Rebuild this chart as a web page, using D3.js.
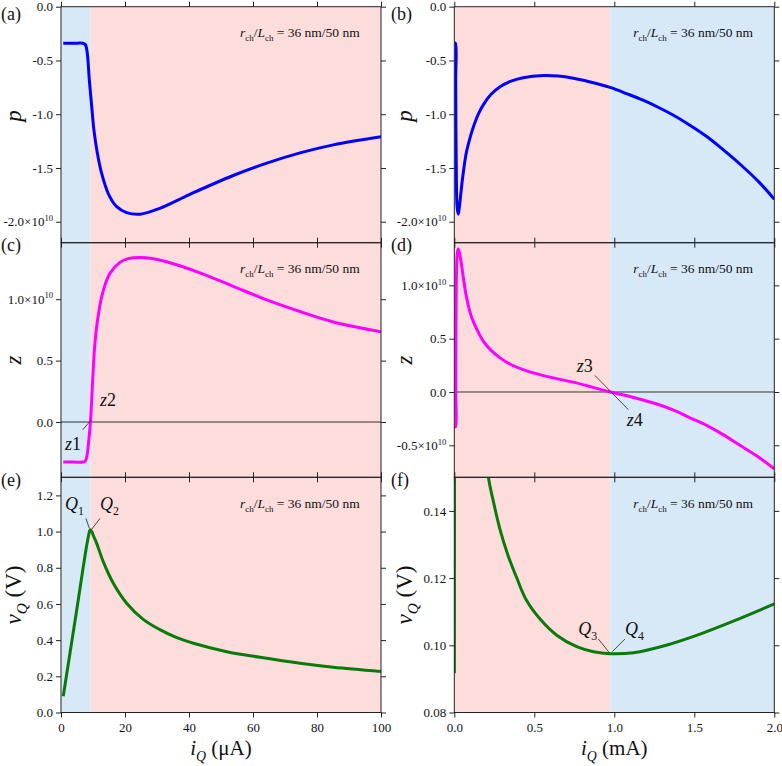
<!DOCTYPE html>
<html>
<head>
<meta charset="utf-8">
<title>p, z and vQ versus iQ</title>
<style>
  body { margin: 0; background: #fff; }
  svg text { font-family: "Liberation Serif", "Times New Roman", serif; fill: #111; }
</style>
</head>
<body>

<div id="chart"></div>

<script src="https://d3js.org/d3.v7.min.js"></script>
<script>

// ---- values ----
// left column: iQ in uA, right column: iQ in mA
var pLeftI = [0.7, 4, 6.8, 7.6, 8.2, 8.85, 9.6, 10.3, 11.35, 12.7, 14.8, 17.4, 20.5, 24.7, 30.9, 40.3, 53.8, 64.3, 74.7, 85.1, 100];
var pLeftV = [-0.34, -0.34, -0.34, -0.352, -0.43, -0.68, -0.93, -1.15, -1.36, -1.55, -1.74, -1.86, -1.915, -1.93, -1.875, -1.745, -1.57, -1.455, -1.36, -1.285, -1.21];

var pRightI = [0.0007, 0.007, 0.0089, 0.0103, 0.0127, 0.0174, 0.0247, 0.0309, 0.0403, 0.0538, 0.0747, 0.1, 0.119, 0.15, 0.18, 0.23, 0.286, 0.35, 0.43, 0.556, 0.65, 0.744, 0.85, 0.973, 1.08, 1.18, 1.28, 1.37, 1.47, 1.58, 1.68, 1.79, 1.9, 2.0];
var pRightV = [-0.34, -0.34, -0.68, -1.15, -1.55, -1.86, -1.93, -1.875, -1.745, -1.57, -1.36, -1.21, -1.12, -1.00, -0.915, -0.815, -0.745, -0.695, -0.66, -0.64, -0.645, -0.665, -0.70, -0.75, -0.81, -0.87, -0.94, -1.01, -1.10, -1.21, -1.33, -1.47, -1.625, -1.79];

var zLeftI = [0.7, 4, 6.8, 7.6, 8.2, 8.6, 9.2, 9.9, 10.6, 11.7, 13.2, 15.3, 18.4, 21, 24.7, 28, 33, 43.4, 53.8, 64.3, 74.7, 85.1, 100];
var zLeftV = [-0.326, -0.326, -0.326, -0.318, -0.26, -0.17, 0.0, 0.34, 0.64, 0.88, 1.07, 1.21, 1.30, 1.33, 1.34, 1.333, 1.305, 1.215, 1.105, 0.995, 0.90, 0.815, 0.735];

var zRightI = [0.0007, 0.0075, 0.0092, 0.0106, 0.0132, 0.0184, 0.0247, 0.033, 0.0434, 0.0538, 0.0747, 0.1, 0.119, 0.15, 0.18, 0.23, 0.286, 0.35, 0.43, 0.53, 0.64, 0.75, 0.85, 0.975, 1.08, 1.18, 1.28, 1.37, 1.47, 1.58, 1.68, 1.79, 1.9, 2.0];
var zRightV = [-0.326, -0.326, 0.0, 0.64, 1.07, 1.30, 1.34, 1.30, 1.21, 1.10, 0.90, 0.74, 0.66, 0.56, 0.48, 0.39, 0.32, 0.26, 0.21, 0.165, 0.125, 0.09, 0.05, 0.0, -0.035, -0.075, -0.12, -0.17, -0.24, -0.315, -0.40, -0.505, -0.61, -0.72];

var vLeftI = [0.7, 4.5, 8.0, 8.7, 9.1, 9.6, 10.3, 11.15, 13.2, 16.35, 20.5, 25.7, 30.9, 36, 41.4, 51.8, 62.2, 74.7, 85.1, 100];
var vLeftV = [0.09, 0.52, 0.92, 0.985, 1.01, 1.0, 0.97, 0.935, 0.834, 0.714, 0.604, 0.515, 0.458, 0.415, 0.383, 0.336, 0.305, 0.272, 0.25, 0.227];

var vRightI = [0.0007, 0.0045, 0.008, 0.0091, 0.0103, 0.0132, 0.0205, 0.0309, 0.0518, 0.0747, 0.1, 0.16, 0.213, 0.243, 0.285, 0.337, 0.39, 0.452, 0.536, 0.64, 0.765, 0.87, 0.975, 1.12, 1.33, 1.54, 1.74, 2.0];
var vRightV = [0.0917, 0.52, 0.92, 1.01, 0.97, 0.834, 0.604, 0.458, 0.336, 0.272, 0.227, 0.175, 0.150, 0.1431, 0.1346, 0.1266, 0.1201, 0.1133, 0.1078, 0.1030, 0.0996, 0.0981, 0.0975, 0.0978, 0.1001, 0.1034, 0.1071, 0.1123];

// tick values
var pTicks = [0, -0.5, -1.0, -1.5, -2.0];
var zLeftTicks = [0, 0.5, 1.0];
var zRightTicks = [-0.5, 0, 0.5, 1.0];
var vLeftTicks = [0, 0.2, 0.4, 0.6, 0.8, 1.0, 1.2];
var vRightTicks = [0.08, 0.10, 0.12, 0.14];
var iLeftTicks = [0, 20, 40, 60, 80, 100];
var iRightTicks = [0, 0.5, 1.0, 1.5, 2.0];

// where the shaded regions change
var leftSplit = 9.2;     // uA
var rightSplit = 0.975;  // mA

// ---- layout ----
var W = 782, H = 766;
var BLUE_BG = "#d7e8f6", PINK_BG = "#fddcdc";

var svg = d3.select("#chart")
  .append("svg")
    .attr("width", W)
    .attr("height", H);

var xLeft = d3.scaleLinear().domain([0, 100]).range([61, 381]);
var xRight = d3.scaleLinear().domain([0, 2]).range([454.3, 774.3]);
var rows = [[6.7, 242.7], [242.7, 477.3], [477.3, 712.5]];
var titleY = [116, 360, 595];

var panels = [
  {tag: "(a)", col: 0, row: 0, yDom: [-2.195, 0], ticks: pTicks, dec: 1, exp: [-2], xs: pLeftI, ys: pLeftV, color: "#0000ff", title: [["p", "i"]]},
  {tag: "(b)", col: 1, row: 0, yDom: [-2.195, 0], ticks: pTicks, dec: 1, exp: [-2], xs: pRightI, ys: pRightV, color: "#0000ff", title: [["p", "i"]]},
  {tag: "(c)", col: 0, row: 1, yDom: [-0.45, 1.46], ticks: zLeftTicks, dec: 1, exp: [1], xs: zLeftI, ys: zLeftV, color: "#ff00ff", title: [["z", "i"]], zero: true},
  {tag: "(d)", col: 1, row: 1, yDom: [-0.8, 1.4], ticks: zRightTicks, dec: 1, exp: [1, -0.5], xs: zRightI, ys: zRightV, color: "#ff00ff", title: [["z", "i"]], zero: true},
  {tag: "(e)", col: 0, row: 2, yDom: [0, 1.3], ticks: vLeftTicks, dec: 1, exp: [], xs: vLeftI, ys: vLeftV, color: "#0a7a0a", title: [["v", "i"], ["Q", "i sub"], [" (V)", ""]], bottom: true},
  {tag: "(f)", col: 1, row: 2, yDom: [0.08, 0.15], ticks: vRightTicks, dec: 2, exp: [], xs: vRightI, ys: vRightV, color: "#0a7a0a", title: [["v", "i"], ["Q", "i sub"], [" (V)", ""]], bottom: true}
];

// append tspans: each part is [text, "i" / "sub" / "i sub" ...]
function rich(t, parts, size) {
  var shift = 0;
  parts.forEach(function(p) {
    var flags = (p[1] || "").split(" ");
    var s = t.append("tspan").text(p[0]);
    var want = flags.indexOf("sub") >= 0 ? size * 0.28 : (flags.indexOf("sup") >= 0 ? -size * 0.42 : 0);
    if (want !== shift) { s.attr("dy", want - shift); shift = want; }
    if (flags.indexOf("i") >= 0) s.attr("font-style", "italic");
    if (want !== 0) s.attr("font-size", size * 0.66);
  });
}

panels.forEach(function(p) {
  p.x = p.col === 0 ? xLeft : xRight;
  p.y = d3.scaleLinear().domain(p.yDom).range([rows[p.row][1], rows[p.row][0]]);
  p.x0 = p.x.range()[0]; p.x1 = p.x.range()[1];
  p.y0 = rows[p.row][0]; p.y1 = rows[p.row][1];
});

// first pass: shaded backgrounds
panels.forEach(function(p) {
  var bands = p.col === 0
    ? [[0, leftSplit, BLUE_BG], [leftSplit, 100, PINK_BG]]
    : [[0, rightSplit, PINK_BG], [rightSplit, 2, BLUE_BG]];
  svg.append("g").selectAll("rect")
    .data(bands)
    .enter().append("rect")
      .attr("x", function(d) { return p.x(d[0]); })
      .attr("width", function(d) { return p.x(d[1]) - p.x(d[0]); })
      .attr("y", p.y0)
      .attr("height", p.y1 - p.y0)
      .attr("fill", function(d) { return d[2]; });
});

// second pass: curves, frames, axes, labels
panels.forEach(function(p, k) {
  var g = svg.append("g");

  var clipId = "clip" + k;
  svg.append("clipPath").attr("id", clipId)
    .append("rect")
      .attr("x", p.x0).attr("y", p.y0)
      .attr("width", p.x1 - p.x0).attr("height", p.y1 - p.y0);

  if (p.zero) {
    g.append("line")
      .attr("x1", p.x0).attr("x2", p.x1)
      .attr("y1", p.y(0)).attr("y2", p.y(0))
      .attr("stroke", "#333").attr("stroke-width", 1);
  }

  var pts = p.xs.map(function(v, i) { return [v, p.ys[i]]; });
  g.append("path")
    .datum(pts)
    .attr("clip-path", "url(#" + clipId + ")")
    .attr("fill", "none")
    .attr("stroke", p.color)
    .attr("stroke-width", 3)
    .attr("stroke-linejoin", "round")
    .attr("d", d3.line()
      .curve(d3.curveCatmullRom.alpha(0.5))
      .x(function(d) { return p.x(d[0]); })
      .y(function(d) { return p.y(d[1]); }));

  // frame
  g.append("rect")
    .attr("x", p.x0).attr("y", p.y0)
    .attr("width", p.x1 - p.x0).attr("height", p.y1 - p.y0)
    .attr("fill", "none").attr("stroke", "#222").attr("stroke-width", 1);

  var xt = p.col === 0 ? iLeftTicks : iRightTicks;
  var fmtX = p.col === 0 ? function(d) { return d.toFixed(0); } : function(d) { return d.toFixed(1); };

  function styleAxis(a) {
    a.select(".domain").remove();
    a.attr("font-family", null).attr("font-size", 13).attr("color", "#222");
  }

  g.append("g")
    .attr("transform", "translate(0," + p.y1 + ")")
    .call(d3.axisBottom(p.x).tickValues(xt).tickSize(5).tickPadding(5).tickFormat(p.bottom ? fmtX : ""))
    .call(styleAxis);
  g.append("g")
    .attr("transform", "translate(0," + p.y0 + ")")
    .call(d3.axisTop(p.x).tickValues(xt).tickSize(5).tickFormat(""))
    .call(styleAxis);
  g.append("g")
    .attr("transform", "translate(" + p.x1 + ",0)")
    .call(d3.axisRight(p.y).tickValues(p.ticks).tickSize(5).tickFormat(""))
    .call(styleAxis);

  var ya = g.append("g")
    .attr("transform", "translate(" + p.x0 + ",0)")
    .call(d3.axisLeft(p.y).tickValues(p.ticks).tickSize(5).tickPadding(3)
      .tickFormat(function(d) { return d.toFixed(p.dec); }))
    .call(styleAxis);

  // mantissa x 10^10 on the marked ticks
  ya.selectAll(".tick text").each(function(d) {
    if (p.exp.indexOf(d) < 0) return;
    var t = d3.select(this).text("");
    rich(t, [[d.toFixed(1) + "\u00d710", ""], ["10", "sup"]], 13);
  });

  // panel tag
  svg.append("text")
    .attr("x", p.col === 0 ? 1 : 391)
    .attr("y", [20, 251, 486][p.row])
    .attr("font-size", 18)
    .text(p.tag);

  // y title
  var yt = svg.append("text")
    .attr("transform", "translate(" + (p.col === 0 ? 21 : 412) + "," + titleY[p.row] + ") rotate(-90)")
    .attr("text-anchor", "middle")
    .attr("font-size", 23);
  rich(yt, p.title, 23);

  // r_ch / L_ch note
  var note = svg.append("text")
    .attr("x", p.x0 + 179)
    .attr("y", p.y0 + 30.5)
    .attr("font-size", 13.5);
  rich(note, [["r", "i"], ["ch", "sub"], ["/", ""], ["L", "i"], ["ch", "sub"], [" = 36 nm/50 nm", ""]], 13.5);

  // x title
  if (p.bottom) {
    var xtl = svg.append("text")
      .attr("x", (p.x0 + p.x1) / 2)
      .attr("y", 755)
      .attr("text-anchor", "middle")
      .attr("font-size", 21);
    rich(xtl, [["i", "i"], ["Q", "i sub"], [p.col === 0 ? " (\u03bcA)" : " (mA)", ""]], 21);
  }
});

// ---- point labels with leader lines (data coordinates) ----
function mark(p, label, at) {
  var t = svg.append("text")
    .attr("x", p.x(at[0]))
    .attr("y", p.y(at[1]))
    .attr("font-size", 18);
  rich(t, label, 18);
}
function leader(p, a, b) {
  svg.append("line")
    .attr("x1", p.x(a[0])).attr("y1", p.y(a[1]))
    .attr("x2", p.x(b[0])).attr("y2", p.y(b[1]))
    .attr("stroke", "#222").attr("stroke-width", 0.8);
}

var pc = panels[2], pd = panels[3], pe = panels[4], pf = panels[5];

mark(pc, [["z", "i"], ["1", ""]], [1.25, -0.23]);
mark(pc, [["z", "i"], ["2", ""]], [12.2, 0.13]);
leader(pc, [6.8, -0.062], [9.4, 0.015]);

mark(pd, [["z", "i"], ["3", ""]], [0.765, 0.19]);
mark(pd, [["z", "i"], ["4", ""]], [1.078, -0.32]);
leader(pd, [0.879, 0.155], [1.088, -0.166]);

mark(pe, [["Q", "i"], ["1", "sub"]], [1.25, 1.12]);
mark(pe, [["Q", "i"], ["2", "sub"]], [12.2, 1.12]);
leader(pe, [7.8, 1.073], [8.85, 1.018]);
leader(pe, [12.2, 1.073], [9.6, 1.013]);

mark(pf, [["Q", "i"], ["3", "sub"]], [0.775, 0.1031]);
mark(pf, [["Q", "i"], ["4", "sub"]], [1.067, 0.1031]);
leader(pf, [0.9, 0.1019], [0.969, 0.0978]);
leader(pf, [1.067, 0.1019], [0.9875, 0.0981]);

</script>

</body>
</html>
